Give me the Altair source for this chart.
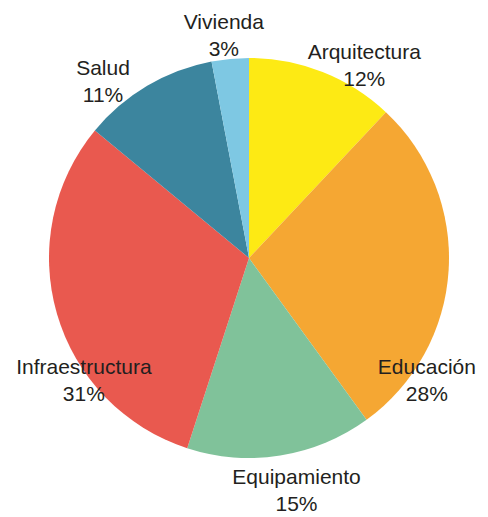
import altair as alt
import pandas as pd

# Data
categories = ["Arquitectura", "Educación", "Equipamiento", "Infraestructura", "Salud", "Vivienda"]
values = [12, 28, 15, 31, 11, 3]
colors = ["#FDEA14", "#F5A733", "#80C29A", "#E9594F", "#3C859E", "#7EC8E3"]

# Label layout (angular position in percent of the circle, radius in px)
label_pos = [8.6, 34.6, 46.8, 64.8, 89.0, 98.2]
label_r = [224, 216, 238, 206, 229, 223]

df = pd.DataFrame({
    "cat": categories,
    "value": values,
    "order": list(range(len(categories))),
    "label_pos": label_pos,
    "label_r": label_r,
})

CX, CY, R = 241, 250, 200

pie = alt.Chart(df).mark_arc(outerRadius=R, stroke=None).encode(
    theta=alt.Theta("value:Q", stack=True),
    order=alt.Order("order:Q"),
    color=alt.Color("cat:N", scale=alt.Scale(domain=categories, range=colors), legend=None),
    x=alt.value(CX),
    y=alt.value(CY),
)

labels = alt.Chart(df).transform_calculate(
    label="datum.cat + '\\n' + datum.value + '%'"
).mark_text(
    font="Liberation Sans",
    fontSize=21,
    color="#231F20",
    lineBreak="\n",
    lineHeight=27,
    align="center",
    baseline="middle",
    dy=-13,
).encode(
    theta=alt.Theta("label_pos:Q", stack=False, scale=alt.Scale(domain=[0, 100], range=[0, 6.283185307])),
    radius=alt.Radius("label_r:Q", scale=None),
    text="label:N",
    x=alt.value(CX),
    y=alt.value(CY),
)

chart = alt.layer(pie, labels).properties(
    width=472, height=509, padding=0, autosize="none"
).configure_view(stroke=None)

chart.save("out.html", embed_options={"renderer": "svg", "actions": False})
